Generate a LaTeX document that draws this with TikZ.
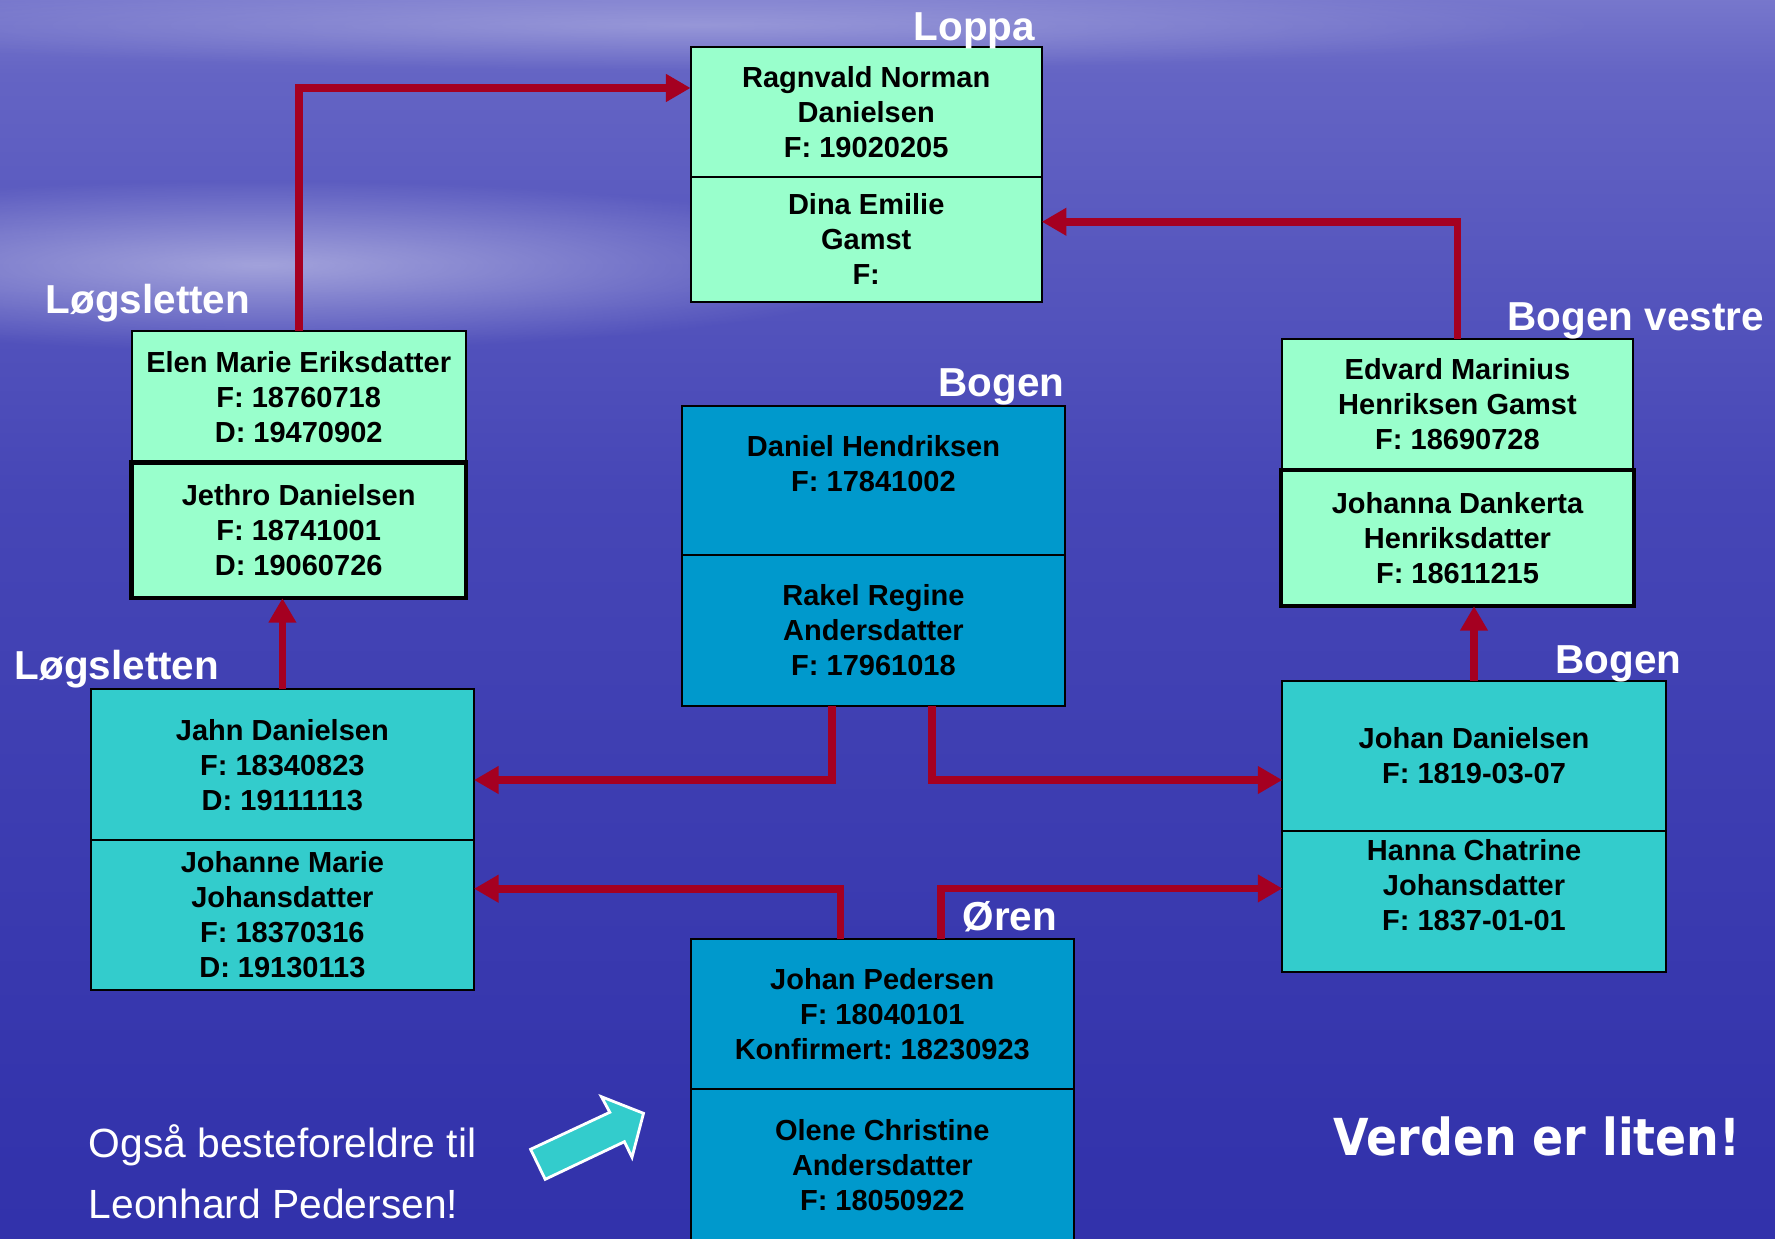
\documentclass[tikz,border=0pt]{standalone}
\usepackage{fontspec}
\setsansfont{Liberation Sans}
\newfontfamily\worldfont{DejaVu Sans Condensed}
\usepackage{xcolor}
\usetikzlibrary{positioning,arrows.meta,fadings}

\definecolor{mint}{RGB}{153,255,204}
\definecolor{boxteal}{RGB}{51,204,204}
\definecolor{boxblue}{RGB}{0,153,204}
\definecolor{linkred}{RGB}{165,0,33}
\definecolor{skytop}{RGB}{105,105,196}
\definecolor{skylow}{RGB}{128,128,208}
\definecolor{horizon}{RGB}{150,150,218}
\definecolor{seatop}{RGB}{100,100,196}
\definecolor{seamid}{RGB}{70,70,182}
\definecolor{sealow}{RGB}{52,52,172}
\definecolor{seabed}{RGB}{40,40,163}
\pgfdeclareverticalshading{ocean}{100bp}{color(0bp)=(seabed); color(30bp)=(sealow);
  color(55bp)=(seamid); color(72bp)=(seatop); color(80bp)=(horizon);
  color(90bp)=(skylow); color(100bp)=(skytop)}
\tikzfading[name=haze, inner color=transparent!55, outer color=transparent!100]

\begin{document}
\frenchspacing
\begin{tikzpicture}[
    x=0.01cm, y=-0.01cm,
    box/.style={rectangle, draw, line width=0.6pt, outer sep=0pt, align=center,
      font=\sffamily\bfseries\fontsize{8.25}{9.96}\selectfont},
    light/.style={box, fill=mint, minimum width=3.51cm},
    sea/.style={box, fill=boxteal, minimum width=3.83cm},
    deep/.style={box, fill=boxblue, minimum width=3.83cm},
    strong/.style={line width=1.3pt},
    place/.style={text=white, anchor=base west, inner sep=0pt,
      font=\sffamily\bfseries\fontsize{11.5}{13}\selectfont},
    note/.style={text=white, anchor=base west, inner sep=0pt,
      font=\sffamily\fontsize{11.6}{14}\selectfont},
    link/.style={draw=linkred, line width=2.2pt, -{Triangle[length=7pt,width=7.5pt]}}
]
    \useasboundingbox (0,0) rectangle (1775,1239);
    \shade[shading=ocean] (0,0) rectangle (1775,1239);
    \fill[white, path fading=haze] (260,265) ellipse [x radius=650, y radius=85];
    \fill[white, path fading=haze, opacity=.6] (700,25) ellipse [x radius=900, y radius=45];

    \node[light, minimum height=1.294cm] (ragnvald) at (866.2,112) {Ragnvald Norman\\Danielsen\\F: 19020205};
    \node[light, minimum height=1.25cm, below=0pt of ragnvald] (dina) {Dina Emilie\\Gamst\\F:};

    \node[light, minimum width=3.34cm, minimum height=1.32cm] (elen) at (298.7,396.7) {Elen Marie Eriksdatter\\F: 18760718\\D: 19470902};
    \node[light, strong, minimum width=3.34cm, minimum height=1.353cm, below=0pt of elen] (jethro) {Jethro Danielsen\\F: 18741001\\D: 19060726};

    \node[light, minimum width=3.516cm, minimum height=1.31cm] (edvard) at (1457.5,404.5) {Edvard Marinius\\Henriksen Gamst\\F: 18690728};
    \node[light, strong, minimum width=3.53cm, minimum height=1.36cm, below=0pt of edvard] (johanna) {Johanna Dankerta\\Henriksdatter\\F: 18611215};

    \node[deep, minimum height=1.493cm] (daniel) at (873.5,480.4) {Daniel Hendriksen\\F: 17841002\\[-3.2pt]\strut};
    \node[deep, minimum height=1.507cm, below=0pt of daniel] (rakel) {Rakel Regine\\Andersdatter\\F: 17961018};

    \node[sea, minimum height=1.507cm] (jahn) at (282.4,764.7) {Jahn Danielsen\\F: 18340823\\D: 19111113};
    \node[sea, minimum height=1.493cm, below=0pt of jahn] (johanne) {Johanne Marie\\Johansdatter\\F: 18370316\\D: 19130113};

    \node[sea, minimum height=1.5cm] (johand) at (1474,756) {Johan Danielsen\\F: 1819-03-07};
    \node[sea, inner ysep=0pt, minimum height=1.413cm, below=0pt of johand] (hanna) {Hanna Chatrine\\Johansdatter\\F: 1837-01-01\\[-3.2pt]\strut};

    \node[deep, minimum height=1.5cm] (johanp) at (882.3,1014.3) {Johan Pedersen\\F: 18040101\\Konfirmert: 18230923};
    \node[deep, minimum height=1.51cm, below=0pt of johanp] (olene) {Olene Christine\\Andersdatter\\F: 18050922};

    \node[place] (loppa) at (913,40) {Loppa};
    \node[place] (logelen) at (45,313) {Løgsletten};
    \node[place] (logjahn) at (14,679) {Løgsletten};
    \node[place] (bogenmid) at (938,396) {Bogen};
    \node[place] (bogenvest) at (1507,330) {Bogen vestre};
    \node[place] (bogenjohan) at (1555,673) {Bogen};
    \node[place] (oren) at (962,930) {Øren};

    \draw[link] (elen.north) |- ([yshift=0.24cm]ragnvald.west);
    \draw[link] (edvard.north) |- ([yshift=0.175cm]dina.east);
    \draw[link] (jahn.north) -- (jahn.north |- jethro.south);
    \draw[link] (johand.north) -- (johand.north |- johanna.south);
    \draw[link] ([xshift=-0.412cm]rakel.south) |- ([yshift=-0.153cm]jahn.east);
    \draw[link] ([xshift=0.588cm]rakel.south) |- ([yshift=-0.24cm]johand.west);
    \draw[link] ([xshift=-0.417cm]johanp.north) |- ([yshift=0.263cm]johanne.east);
    \draw[link] ([xshift=0.586cm]johanp.north) |- ([yshift=0.133cm]hanna.west);

    \draw[white, line width=0.8pt, fill=boxteal] (530.6,1149.3) -- (545.2,1179.3) -- (624.4,1141.7)
      -- (632,1157.3) -- (643.5,1113.3) -- (601.4,1096.7) -- (609.8,1112.3) -- cycle;

    \node[note] (note1) at (88,1157) {Også besteforeldre til};
    \node[note] (note2) at (88,1218) {Leonhard Pedersen!};
    \node[text=white, anchor=base west, inner sep=0pt, font=\worldfont\bfseries\fontsize{14.5}{17}\selectfont] (verden) at (1333,1155) {Verden er liten!};
\end{tikzpicture}
\end{document}
